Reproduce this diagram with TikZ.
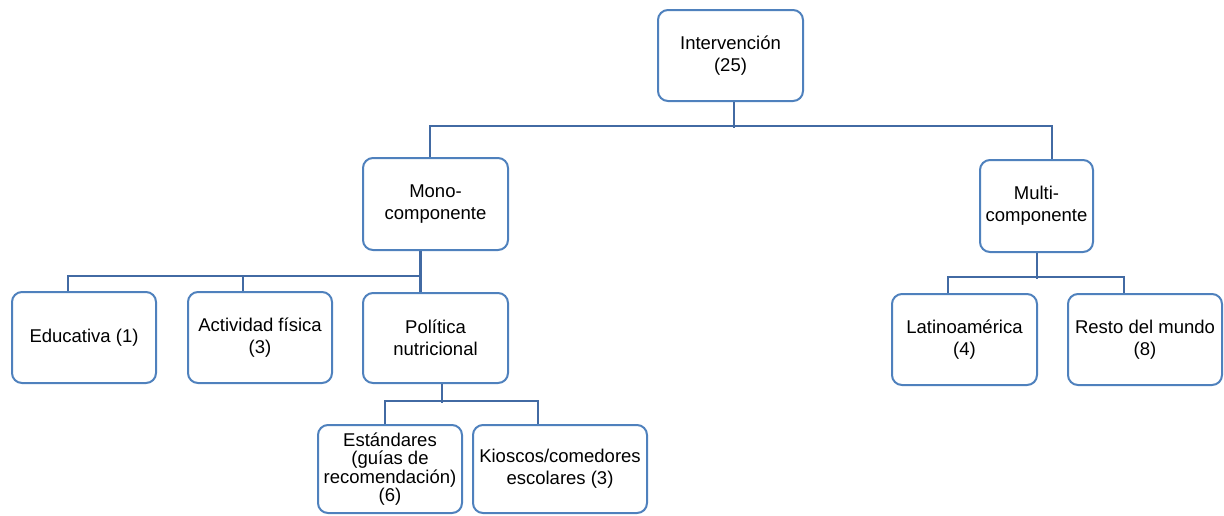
\documentclass[tikz,border=0pt]{standalone}
\usepackage{fontspec}
\setmainfont{Liberation Sans}
\definecolor{boxblue}{RGB}{79,129,189}
\definecolor{linkblue}{RGB}{66,106,163}
\begin{document}
\begin{tikzpicture}[x=1pt,y=-1pt,
  box/.style={draw=boxblue,line width=2pt,fill=white,rounded corners=10pt,
    align=center,inner sep=0pt,
    font=\fontsize{18.5}{22}\selectfont},
  conn/.style={draw=linkblue,line width=2.2pt},
  connthick/.style={draw=linkblue,line width=2.8pt}]
\useasboundingbox (0,0) rectangle (1224,515);
% level 1
\node[box,minimum width=145pt,minimum height=91pt] (int) at (730.5,55.5) {Intervención\\(25)};
% level 2
\node[box,minimum width=145pt,minimum height=92pt] (mono) at (435.5,204) {Mono-\\componente};
\node[box,minimum width=113pt,minimum height=92pt] (multi) at (1036.5,206) {Multi-\\componente};
% level 3
\node[box,minimum width=144pt,minimum height=91pt] (edu) at (84,337.5) {Educativa (1)};
\node[box,minimum width=144pt,minimum height=91pt] (act) at (260,337.5) {Actividad física\\(3)};
\node[box,minimum width=145pt,minimum height=90pt] (pol) at (435.5,338) {Política\\nutricional};
\node[box,minimum width=145pt,minimum height=91pt] (lat) at (964.5,339.5) {Latinoamérica\\(4)};
\node[box,minimum width=154pt,minimum height=91pt] (res) at (1145,339.5) {Resto del mundo\\(8)};
% level 4
\node[box,minimum width=144pt,minimum height=88pt,font=\fontsize{18.5}{18.5}\selectfont] (est) at (390,469) {Estándares\\(guías de\\recomendación)\\(6)};
\node[box,minimum width=174pt,minimum height=88pt] (kio) at (560,469) {Kioscos/comedores\\escolares (3)};
% connectors
\draw[connthick] ([xshift=3.5pt]int.south) -- ++(0,26);
\draw[connthick] ([xshift=-5.5pt]mono.north) -- ++(0,-31) -| ([xshift=15.5pt]multi.north);
\draw[conn] ([xshift=-15pt]mono.south) -- ([xshift=-15pt]pol.north);
\draw[conn] ([xshift=-16pt]edu.north) -- ++(0,-15) -| ([xshift=-15pt]pol.north);
\draw[conn] ([xshift=-17pt]act.north) -- ++(0,-15);
\draw[connthick] ([xshift=6.5pt]pol.south) -- ++(0,19);
\draw[connthick] ([xshift=-5pt]est.north) -- ++(0,-23) -| ([xshift=-22pt]kio.north);
\draw[conn] ([xshift=0.5pt]multi.south) -- ++(0,26);
\draw[conn] ([xshift=-16.5pt]lat.north) -- ++(0,-16) -| ([xshift=-21pt]res.north);
\end{tikzpicture}
\end{document}
